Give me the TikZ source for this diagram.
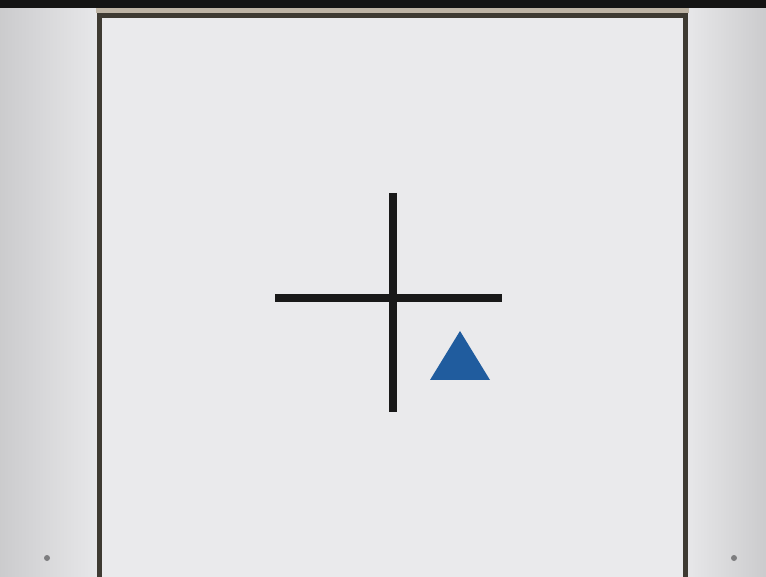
\documentclass[tikz,border=0pt]{standalone}
\usetikzlibrary{calc}
\definecolor{bgpanel}{RGB}{214,214,216}
\definecolor{bgpanellight}{RGB}{232,232,234}
\definecolor{screen}{RGB}{234,234,236}
\definecolor{framecol}{RGB}{62,58,50}
\definecolor{framebrown}{RGB}{190,180,165}
\definecolor{triblue}{RGB}{32,92,158}
\definecolor{dotgray}{RGB}{125,125,127}
\tikzset{
  crossline/.style={line width=7.5pt, draw=black!90, line cap=butt},
  framestyle/.style={line width=5pt, draw=framecol},
  dotstyle/.style={fill=dotgray},
}
\begin{document}
\begin{tikzpicture}[x=1pt,y=-1pt]
\useasboundingbox (0,0) rectangle (766,577);
% side panels with gradient
\shade[left color=bgpanel!95!black, right color=bgpanellight] (0,0) rectangle (100,577);
\shade[left color=bgpanellight, right color=bgpanel!95!black] (685,0) rectangle (766,577);
% top dark bar
\fill[black!92] (0,0) rectangle (766,8);
\fill[framebrown] (96,8) rectangle (689,13);
% screen
\fill[screen] (100,16) rectangle (685,577);
\draw[framestyle] (99.5,590) -- (99.5,15.5) -- (685.5,15.5) -- (685.5,590);
% cross
\coordinate (ctop) at (393,193);
\coordinate (cbot) at (393,412);
\coordinate (cleft) at (275,298);
\coordinate (cright) at (502,298);
\draw[crossline] (ctop) -- (cbot);
\draw[crossline] (cleft) -- (cright);
% triangle
\coordinate (tapex) at (460,331);
\coordinate (tleft) at (430,380);
\coordinate (tright) at (490,380);
\fill[triblue] (tapex) -- (tleft) -- (tright) -- cycle;
% dots
\fill[dotstyle] (47,558) circle (3);
\fill[dotstyle] (734,558) circle (3);
\end{tikzpicture}
\end{document}
